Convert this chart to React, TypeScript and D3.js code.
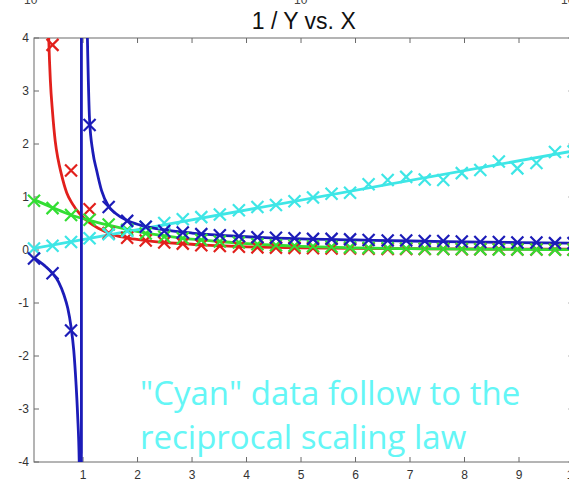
import * as d3 from "d3";

// tick labels
const xTicks = [1, 2, 3, 4, 5, 6, 7, 8, 9, 10];
const yTicks = [-4, -3, -2, -1, 0, 1, 2, 3, 4];

// sample positions of the measured points (x)
const sampleX = [
  0.1, 0.44, 0.78, 1.12, 1.47, 1.81, 2.15, 2.49, 2.83, 3.17, 3.51, 3.86, 4.2, 4.54, 4.88,
  5.22, 5.56, 5.9, 6.24, 6.59, 6.93, 7.27, 7.61, 7.95, 8.29, 8.63, 8.97, 9.32, 9.66, 10.0,
];

// measured points (1/Y) per series, null = outside the plot
const redMarks = [
  null, 3.87, 1.5, 0.77, 0.32, 0.23, 0.18, 0.14, 0.12, 0.09, 0.075, 0.06, 0.05, 0.045, 0.04,
  0.035, 0.03, 0.03, 0.025, 0.02, 0.02, 0.02, 0.02, 0.015, 0.015, 0.015, 0.01, 0.01, 0.01, 0.01,
];
const greenMarks = [
  0.93, 0.79, 0.66, 0.57, 0.48, 0.38, 0.31, 0.25, 0.22, 0.19, 0.16, 0.14, 0.11, 0.09, 0.08,
  0.07, 0.06, 0.05, 0.04, 0.035, 0.03, 0.025, 0.02, 0.02, 0.015, 0.01, 0.01, 0.01, 0.005, 0.005,
];
const cyanMarks = [
  0.03, 0.08, 0.15, 0.22, 0.3, 0.36, 0.44, 0.51, 0.58, 0.62, 0.67, 0.75, 0.81, 0.85, 0.92,
  0.99, 1.06, 1.08, 1.24, 1.32, 1.38, 1.33, 1.32, 1.45, 1.51, 1.67, 1.54, 1.64, 1.85, 1.86,
];
const blueMarks = [
  -0.16, -0.44, -1.52, 2.36, 0.81, 0.55, 0.44, 0.36, 0.33, 0.3, 0.28, 0.26, 0.24, 0.23, 0.22,
  0.21, 0.21, 0.2, 0.19, 0.18, 0.18, 0.17, 0.17, 0.16, 0.15, 0.15, 0.14, 0.14, 0.13, 0.13,
];

// fitted curves
const redFit: [number, number][] = [
  [0.3, 9], [0.34, 5.2], [0.37, 4.0], [0.4, 3.2], [0.44, 2.6], [0.49, 2.05], [0.54, 1.72],
  [0.6, 1.44], [0.7, 1.08], [0.8, 0.88], [0.95, 0.67], [1.1, 0.53], [1.28, 0.41], [1.58, 0.28],
  [1.86, 0.22], [2.15, 0.18], [2.5, 0.14], [2.84, 0.12], [3.18, 0.095], [3.5, 0.08],
  [3.86, 0.065], [4.2, 0.055], [5, 0.04], [6, 0.03], [7, 0.025], [8, 0.02], [9, 0.018], [10, 0.015],
];
const greenFit: [number, number][] = [
  [0.1, 0.95], [0.44, 0.8], [0.78, 0.66], [1.12, 0.56], [1.47, 0.47], [1.81, 0.39], [2.15, 0.32],
  [2.49, 0.27], [2.83, 0.22], [3.17, 0.19], [3.51, 0.16], [3.86, 0.13], [4.2, 0.11], [4.54, 0.09],
  [5, 0.07], [6, 0.04], [7, 0.025], [8, 0.015], [9, 0.01], [10, 0.005],
];
const cyanFit: [number, number][] = [
  [0.1, 0.03], [10, 1.87],
];
const blueFitLeft: [number, number][] = [
  [0.1, -0.15], [0.2, -0.22], [0.3, -0.3], [0.44, -0.44], [0.55, -0.6], [0.65, -0.85],
  [0.72, -1.1], [0.78, -1.45], [0.83, -1.9], [0.87, -2.5], [0.9, -3.1], [0.93, -4.0],
  [0.95, -5.5], [0.965, -60],
];
const blueJump: [number, number][] = [
  [0.965, -60], [0.975, 60],
];
const blueFitRight: [number, number][] = [
  [0.975, 60], [1.0, 14], [1.04, 6.5], [1.08, 4.0], [1.12, 2.45], [1.18, 1.85], [1.25, 1.5],
  [1.34, 1.12], [1.46, 0.84], [1.6, 0.69], [1.8, 0.56], [2.05, 0.47], [2.5, 0.38], [3.0, 0.32],
  [3.5, 0.28], [4.0, 0.25], [5.0, 0.21], [6.0, 0.19], [7.0, 0.17], [8.0, 0.155], [9.0, 0.14],
  [10, 0.13],
];

const RED = "#e2201c";
const GREEN = "#33de33";
const CYAN = "#3ee6e6";
const BLUE = "#1c1cb8";

export default function App() {
  const x = d3.scaleLinear().domain([0.1, 10]).range([34, 573.5]);
  const y = d3.scaleLinear().domain([-4, 4]).range([462, 38]);

  const smooth = d3
    .line<[number, number]>()
    .x((d) => x(d[0]))
    .y((d) => y(d[1]))
    .curve(d3.curveMonotoneX);
  const straight = d3
    .line<[number, number]>()
    .x((d) => x(d[0]))
    .y((d) => y(d[1]));

  const cross = "M-6,-6L6,6M-6,6L6,-6";

  const marks = (vals: (number | null)[], color: string, key: string) =>
    vals.map((v, i) =>
      v === null ? null : (
        <path
          key={key + i}
          d={cross}
          transform={`translate(${x(sampleX[i])},${y(v)})`}
          stroke={color}
          strokeWidth={2.2}
          fill="none"
        />
      )
    );

  const x0 = x(0.1);
  const x1 = x(10);
  const yTop = y(4);
  const yBot = y(-4);
  const axisFont = "'Liberation Sans', Arial, sans-serif";

  return (
    <div
      style={{
        position: "fixed",
        left: 0,
        top: 0,
        width: 569,
        height: 485,
        overflow: "hidden",
        background: "#fff",
      }}
    >
      <svg width={620} height={485} style={{ display: "block" }}>
        <defs>
          <clipPath id="plot">
            <rect x={x0} y={yTop} width={x1 - x0} height={yBot - yTop} />
          </clipPath>
        </defs>

        {/* bottoms of the log axis labels of the plot above, cut by the crop */}
        {[24, 294, 561].map((px) => (
          <text key={px} x={px} y={4} fontSize={12} fill="#444" fontFamily={axisFont}>
            10
          </text>
        ))}

        <text
          x={(x0 + x1) / 2}
          y={29}
          textAnchor="middle"
          fontSize={23}
          fill="#111"
          fontFamily={axisFont}
        >
          1 / Y vs. X
        </text>

        {/* axes box */}
        <rect x={x0} y={yTop} width={x1 - x0} height={yBot - yTop} fill="none" stroke="#6a6a6a" strokeWidth={1} />
        {xTicks.map((t) => (
          <g key={"xt" + t}>
            <line x1={x(t)} x2={x(t)} y1={yBot} y2={yBot - 5} stroke="#6a6a6a" />
            <line x1={x(t)} x2={x(t)} y1={yTop} y2={yTop + 5} stroke="#6a6a6a" />
            <text x={x(t)} y={479} textAnchor="middle" fontSize={12} fill="#333" fontFamily={axisFont}>
              {t}
            </text>
          </g>
        ))}
        {yTicks.map((t) => (
          <g key={"yt" + t}>
            <line x1={x0} x2={x0 + 5} y1={y(t)} y2={y(t)} stroke="#6a6a6a" />
            <line x1={x1} x2={x1 - 5} y1={y(t)} y2={y(t)} stroke="#6a6a6a" />
            <text x={29} y={y(t)} dy="0.35em" textAnchor="end" fontSize={12} fill="#333" fontFamily={axisFont}>
              {t}
            </text>
          </g>
        ))}

        <g clipPath="url(#plot)" fill="none" strokeWidth={2.8} strokeLinejoin="round">
          <path d={smooth(redFit) ?? ""} stroke={RED} />
          <path d={smooth(greenFit) ?? ""} stroke={GREEN} />
          <path d={straight(cyanFit) ?? ""} stroke={CYAN} />
          <path d={smooth(blueFitLeft) ?? ""} stroke={BLUE} />
          <path d={straight(blueJump) ?? ""} stroke={BLUE} />
          <path d={smooth(blueFitRight) ?? ""} stroke={BLUE} />
        </g>

        <g>
          {marks(redMarks, RED, "r")}
          {marks(greenMarks, GREEN, "g")}
          {marks(cyanMarks, CYAN, "c")}
          {marks(blueMarks, BLUE, "b")}
        </g>

        <text x={140} y={405} fontSize={33} fill="#64f6f6" fontFamily="'Open Sans', sans-serif">
          {'"Cyan" data follow to the'}
        </text>
        <text x={140} y={449} fontSize={33} fill="#64f6f6" fontFamily="'Open Sans', sans-serif">
          reciprocal scaling law
        </text>
      </svg>
    </div>
  );
}
